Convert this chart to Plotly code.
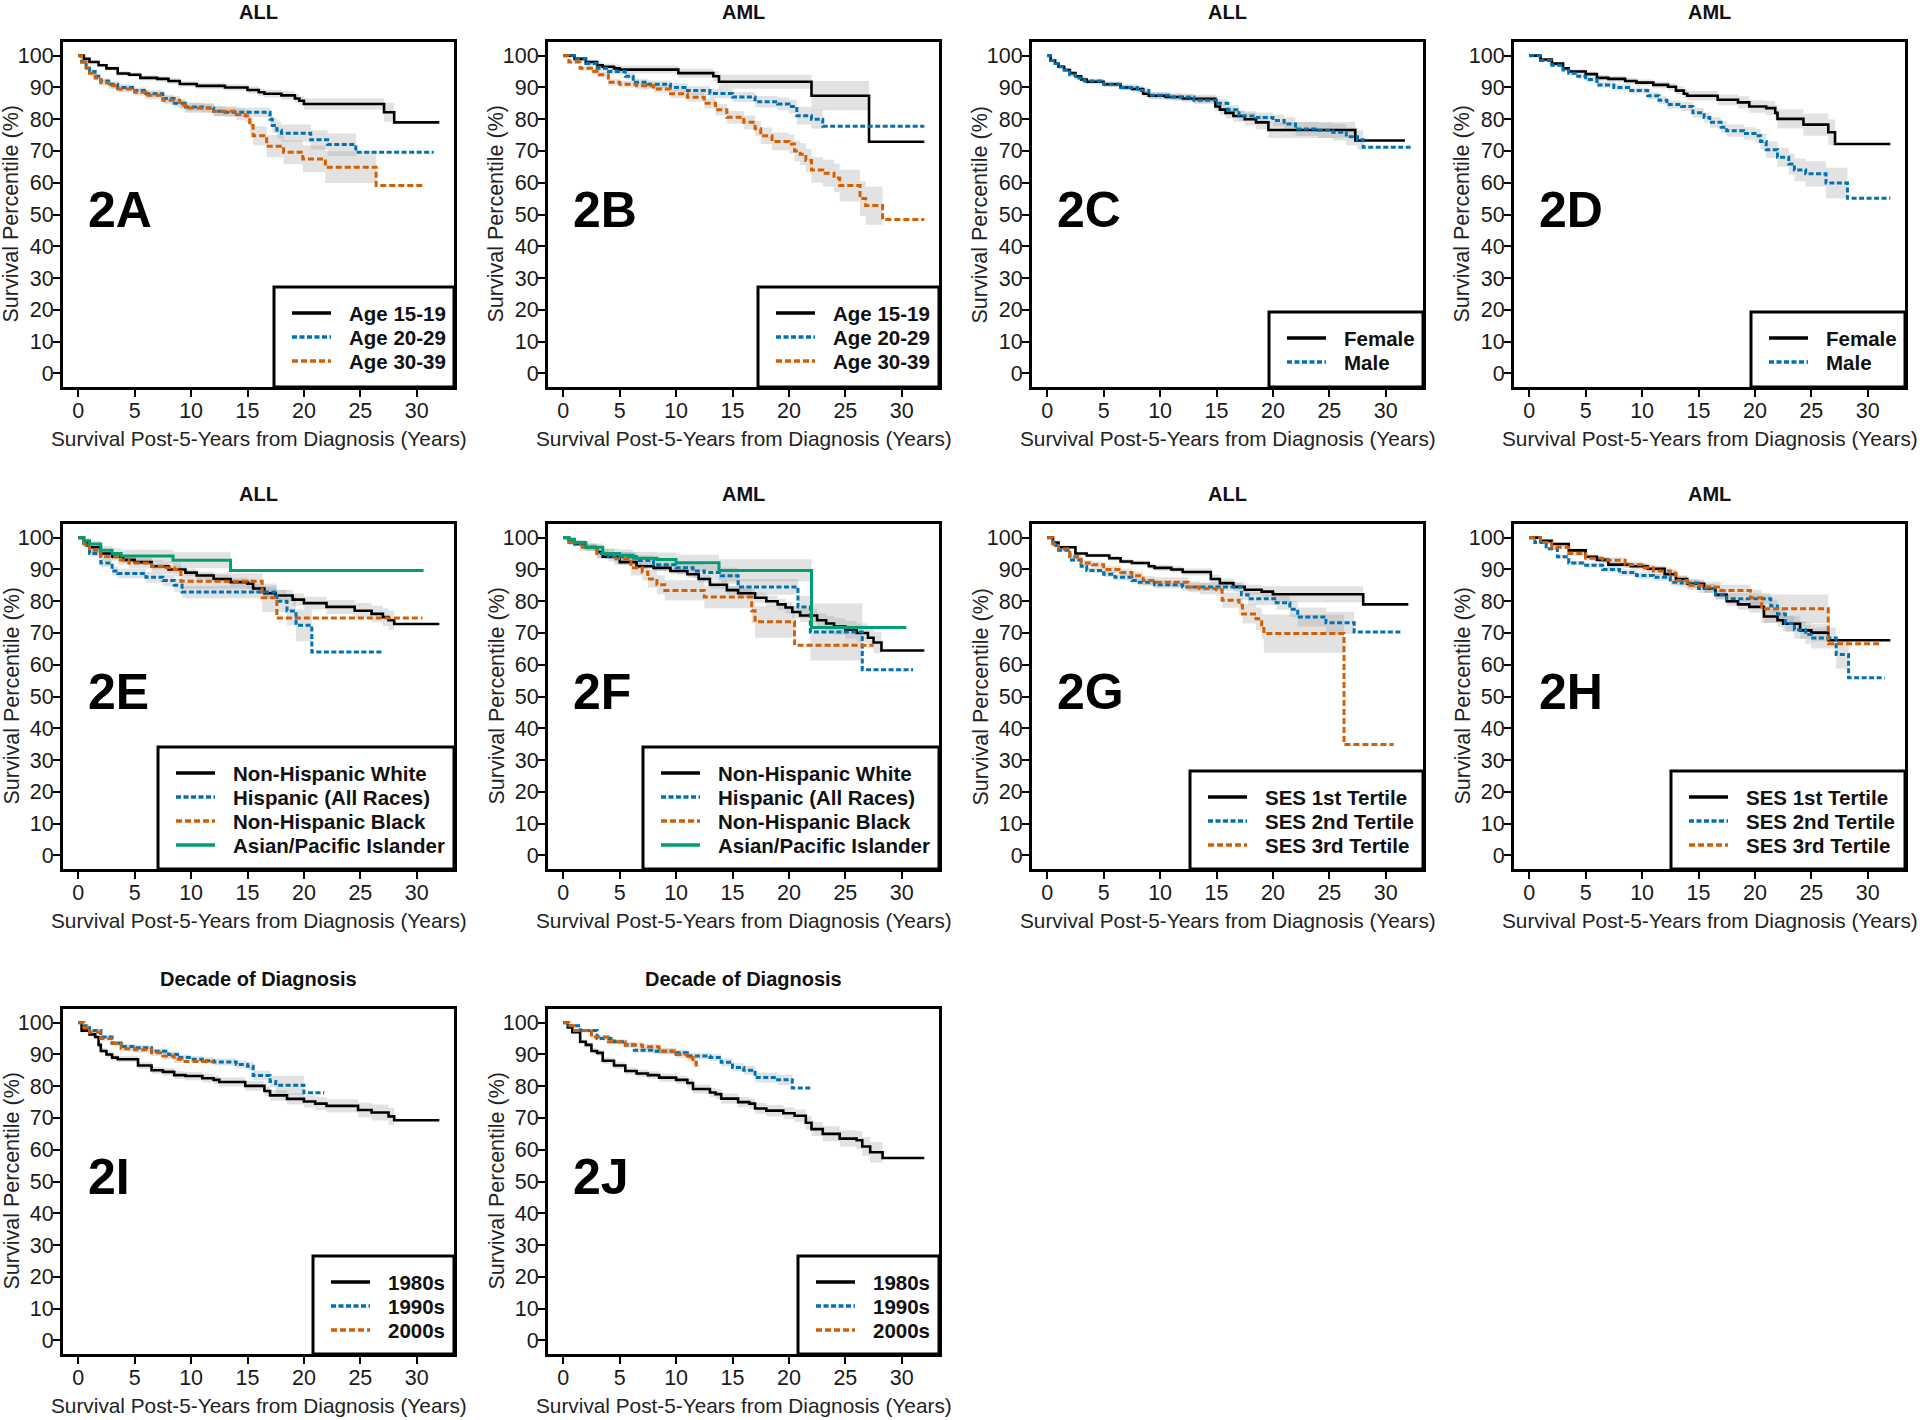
import plotly.graph_objects as go

W, H = 1920, 1420
FONT = "Liberation Sans, Arial, sans-serif"

X_TICKS = [0, 5, 10, 15, 20, 25, 30]
Y_TICKS = [0, 10, 20, 30, 40, 50, 60, 70, 80, 90, 100]
X_TITLE = "Survival Post-5-Years from Diagnosis (Years)"
Y_TITLE = "Survival Percentile (%)"

# ---- 2A: ALL by age ------------------------------------------------------
A_NAMES = ["Age 15-19", "Age 20-29", "Age 30-39"]
A1_T = [0, 0.5, 1, 1.8, 2.5, 3.5, 4.5, 5.5, 7, 8, 9, 10.5, 13, 15, 16, 16.5, 18, 19.2, 19.6, 20, 27.1, 28, 32]
A1_S = [100, 99, 98, 97, 96, 94.4, 94, 93, 92.7, 92, 91.1, 90.5, 90, 89.2, 88.5, 88, 87.5, 86.5, 85.8, 84.8, 82.2, 79, 79]
A1_CI = [0, 0.3, 0.4, 0.5, 0.6, 0.7, 0.7, 0.8, 0.8, 0.9, 0.9, 1, 1, 1.1, 1.2, 1.2, 1.3, 1.4, 1.4, 1.8, 3, 0, 0]
A2_T = [0, 0.3, 0.7, 1, 1.5, 2, 2.7, 3.5, 5, 6, 7.5, 8.5, 9.5, 11, 12, 13, 17, 17.2, 17.6, 18, 20.6, 22.1, 24.6, 31.5]
A2_S = [100, 98, 96.5, 95, 93.5, 92, 91, 90, 89, 88, 86.5, 85, 83.8, 83.5, 82.5, 82.2, 80, 78, 76.5, 75.6, 73.5, 72, 69.6, 69.6]
A2_CI = [0, 0.3, 0.5, 0.6, 0.7, 0.8, 0.9, 1, 1, 1.1, 1.2, 1.3, 1.4, 1.4, 1.5, 1.5, 2, 2.3, 2.5, 2.7, 3, 3.5, 0, 0]
A3_T = [0, 0.3, 0.7, 1, 1.5, 2, 2.7, 3.5, 5, 6, 7.5, 9, 9.5, 11, 12, 14, 14.8, 15.2, 15.5, 16.7, 18.2, 19.9, 21.9, 26.4, 30.7]
A3_S = [100, 98, 96, 94.5, 93, 91.5, 90.5, 89.5, 88.5, 87.5, 86, 84.5, 83.5, 83.5, 82.5, 81.5, 81, 78, 74.8, 71.5, 69.6, 67.5, 64.9, 59.1, 59.1]
A3_CI = [0, 0.4, 0.6, 0.7, 0.8, 0.9, 1, 1, 1.1, 1.2, 1.3, 1.4, 1.5, 1.5, 1.6, 1.8, 2, 2.5, 3, 3.5, 3.8, 4.2, 5, 0, 0]

# ---- 2B: AML by age ------------------------------------------------------
B_NAMES = ["Age 15-19", "Age 20-29", "Age 30-39"]
B1_T = [0, 1, 2, 3, 3.5, 4.5, 5, 10.2, 13.3, 13.8, 22, 27.1, 32]
B1_S = [100, 99, 98, 97, 96.5, 96, 95.6, 94.5, 93.5, 91.8, 87.4, 72.9, 72.9]
B1_CI = [0, 0.5, 0.8, 1, 1, 1.1, 1.2, 1.4, 1.6, 2.2, 4.6, 0, 0]
B2_T = [0, 1, 2, 3, 4, 5.5, 6.2, 7.5, 9.5, 11, 13, 15, 17, 19, 20, 20.7, 22, 23, 32]
B2_S = [100, 99, 97.5, 96, 95, 93.5, 91.6, 91, 90, 89, 88.1, 87, 85.5, 84.8, 84, 81.1, 80, 77.8, 77.8]
B2_CI = [0, 0.5, 0.7, 0.8, 0.9, 1, 1.1, 1.2, 1.3, 1.4, 1.5, 1.6, 1.8, 2, 2.2, 2.8, 3, 0, 0]
B3_T = [0, 0.5, 1.5, 2.5, 3, 4, 5, 6.5, 8, 9.5, 11, 12.5, 13.5, 14.5, 16, 17, 17.5, 18.5, 20, 20.5,
        21, 21.5, 22, 23, 24, 24.5, 26.3, 26.8, 28.3, 32]
B3_S = [100, 98, 96, 95, 94, 91.6, 91, 90.5, 89.5, 88, 86.9, 85, 83, 80.6, 79, 77, 74.8, 73, 72.2, 70,
        69, 67, 64, 63, 61.5, 59.1, 55, 52.8, 48.4, 48.4]
B3_CI = [0, 0.5, 0.7, 0.8, 0.9, 1, 1, 1.1, 1.2, 1.3, 1.4, 1.6, 1.8, 2, 2.2, 2.4, 2.6, 2.8, 3, 3.2,
         3.4, 3.6, 4, 4.2, 4.5, 5, 5.5, 6, 0, 0]

# ---- 2C: ALL by sex ------------------------------------------------------
C_NAMES = ["Female", "Male"]
C1_T = [0, 0.3, 0.7, 1, 1.5, 2, 2.5, 3, 3.5, 5, 6.5, 7.5, 8.5, 9, 10.5, 12, 13, 14.9, 15.3, 15.8,
        16.5, 17.5, 18.5, 19.6, 27.3, 31.7]
C1_S = [100, 98.5, 97.5, 96.5, 95.5, 94.5, 93.5, 92.5, 91.8, 91, 90, 89.5, 88, 87.4, 87, 86.5, 86.4, 84, 83, 82,
        81, 80, 79, 76.6, 73.3, 73.3]
C1_CI = [0, 0.3, 0.4, 0.5, 0.5, 0.6, 0.6, 0.7, 0.7, 0.8, 0.9, 1, 1, 1.1, 1.1, 1.2, 1.3, 1.5, 1.6, 1.7,
         1.8, 2, 2.2, 2.5, 0, 0]
C2_T = [0, 0.3, 0.7, 1, 1.5, 2, 2.5, 3.3, 5, 6.5, 8, 9, 11, 13, 15, 16, 17, 18.5, 20, 21,
        22, 24, 25.3, 26.5, 27.5, 28, 32.2]
C2_S = [100, 98.5, 97.5, 96.5, 95.5, 94, 93, 92, 91, 90, 89, 87.5, 87, 86, 85, 83, 81, 80.5, 79.6, 78.5,
        76.9, 76.5, 75.9, 74.5, 73.5, 71.2, 71.2]
C2_CI = [0, 0.3, 0.4, 0.5, 0.5, 0.6, 0.6, 0.7, 0.8, 0.9, 1, 1, 1.1, 1.2, 1.3, 1.4, 1.5, 1.6, 1.8, 2,
         2.2, 2.4, 2.6, 2.8, 3, 0, 0]

# ---- 2D: AML by sex ------------------------------------------------------
D_NAMES = ["Female", "Male"]
D1_T = [0, 1, 2, 3, 3.5, 5, 6, 7, 8.5, 9.5, 11, 12.3, 13, 13.7, 14, 16.7, 18.5, 19.5, 21, 21.8,
        22, 24.3, 26.5, 27.1, 32]
D1_S = [100, 98.8, 97.5, 96, 95, 94.2, 93, 92.7, 92, 91.5, 90.8, 90.2, 89, 88, 87.4, 86.1, 85.3, 84, 83.5, 82,
        80.1, 78.3, 75.9, 72.2, 72.2]
D1_CI = [0, 0.4, 0.5, 0.6, 0.7, 0.8, 0.9, 0.9, 1, 1, 1.1, 1.2, 1.3, 1.4, 1.5, 1.7, 1.9, 2, 2.2, 2.5,
         3, 3.5, 4, 0, 0]
D2_T = [0, 1, 2, 3, 3.5, 4.3, 5, 6, 7.5, 9, 10.5, 11.5, 12.2, 13.5, 14.5, 15.5, 16, 17, 17.5, 19,
        20, 20.5, 21, 22, 23, 23.5, 24.5, 26.3, 28.2, 32]
D2_S = [100, 98.5, 97, 95.5, 94.5, 93.5, 92.5, 90.8, 90, 89, 87.4, 86, 84.6, 84, 82, 80.5, 79, 77.5, 76.4, 75.5,
        74.8, 73, 70.4, 68, 65.9, 64, 62.8, 59.9, 55.1, 55.1]
D2_CI = [0, 0.4, 0.5, 0.6, 0.7, 0.7, 0.8, 0.9, 1, 1, 1.1, 1.2, 1.3, 1.4, 1.5, 1.6, 1.7, 1.8, 1.9, 2,
         2.2, 2.4, 2.6, 3, 3.3, 3.6, 4, 4.8, 0, 0]

# ---- 2E: ALL by race/ethnicity -------------------------------------------
E_NAMES = ["Non-Hispanic White", "Hispanic (All Races)", "Non-Hispanic Black", "Asian/Pacific Islander"]
E1_T = [0, 0.5, 1, 2, 3, 4, 5, 6.5, 8, 9.5, 10.5, 12, 13.5, 15, 15.5, 16.5, 17.5, 19, 20, 22,
        24.5, 26, 27, 27.5, 28, 32]
E1_S = [100, 98.5, 97, 95, 94, 93, 92.3, 91, 90, 89, 88.1, 87, 86, 85.5, 84, 82.5, 81.8, 80.5, 79.4, 78.2,
        77, 76, 75, 74, 72.8, 72.8]
E1_CI = [0, 0.4, 0.5, 0.6, 0.7, 0.8, 0.9, 1, 1, 1.1, 1.2, 1.3, 1.4, 1.5, 1.6, 1.7, 1.8, 1.9, 2, 2.2,
         2.4, 2.6, 2.8, 3, 0, 0]
E2_T = [0, 0.5, 1, 2, 3, 3.5, 6, 7.5, 8.5, 9.2, 17.6, 18.5, 19.3, 20.7, 27]
E2_S = [100, 97.5, 95, 92, 89.5, 88.7, 87.5, 86.5, 85, 82.9, 80, 76.9, 72.4, 64, 64]
E2_CI = [0, 0.6, 0.9, 1.2, 1.4, 1.5, 1.7, 1.8, 2, 2, 3.5, 4.5, 5, 0, 0]
E3_T = [0, 0.5, 1, 2, 3.5, 4.5, 6.5, 7.5, 8.5, 9.1, 16.3, 17.6, 30.5]
E3_S = [100, 98, 96, 94, 93, 92, 91, 90.5, 90, 86.3, 81.1, 74.7, 74.7]
E3_CI = [0, 0.8, 1, 1.3, 1.5, 1.7, 1.9, 2, 2.2, 2.5, 4.5, 0, 0]
E4_T = [0, 0.5, 1, 2, 3, 3.8, 8.4, 13.5, 30.6]
E4_S = [100, 99, 98, 96, 95, 94.2, 92.9, 89.7, 89.7]
E4_CI = [0, 0.8, 1, 1.4, 1.7, 2, 2.5, 0, 0]

# ---- 2F: AML by race/ethnicity -------------------------------------------
F_NAMES = ["Non-Hispanic White", "Hispanic (All Races)", "Non-Hispanic Black", "Asian/Pacific Islander"]
F1_T = [0, 0.5, 1, 2, 3, 3.5, 5, 6.5, 8, 9.5, 11, 12, 13, 14.5, 15.5, 17, 18, 19, 19.7, 20.3,
        21, 22.5, 23.3, 24, 25, 26, 27, 27.5, 28.2, 32]
F1_S = [100, 99, 98, 97, 95.5, 94, 92.3, 91, 90.5, 89.5, 88.5, 87, 85.2, 83.5, 82.5, 81.1, 80, 79, 78, 76.6,
        75.5, 74, 73, 72, 71, 70, 68.5, 67, 64.5, 64.5]
F1_CI = [0, 0.3, 0.4, 0.5, 0.6, 0.7, 0.8, 0.9, 1, 1, 1.1, 1.2, 1.3, 1.4, 1.5, 1.6, 1.7, 1.8, 1.9, 2,
         2.1, 2.2, 2.4, 2.6, 2.8, 3, 3.2, 3.4, 0, 0]
F2_T = [0, 0.5, 1, 2, 3, 4, 6.5, 8, 10, 11.5, 12.5, 14, 15.5, 20.8, 21.9, 26.5, 31]
F2_S = [100, 99, 98, 97, 95, 94, 92.8, 91.5, 90.5, 89.5, 89, 88, 84.5, 78.2, 70.3, 58.4, 58.4]
F2_CI = [0, 0.6, 0.9, 1.1, 1.3, 1.5, 1.7, 1.9, 2, 2.2, 2.3, 2.5, 2.5, 3.5, 9, 0, 0]
F3_T = [0, 0.5, 1.5, 3, 4.5, 6, 7, 7.5, 8.3, 9, 12.5, 16.7, 17, 20.5, 27.5]
F3_S = [100, 98.5, 97, 95, 93.4, 90.5, 89.2, 87, 85.2, 83.4, 81.3, 77, 73.5, 66.1, 66.1]
F3_CI = [0, 0.8, 1.2, 1.6, 2, 2.4, 2.6, 2.8, 3, 3.2, 3.5, 4, 5, 0, 0]
F4_T = [0, 0.5, 1, 2, 3.5, 5, 6.2, 8.3, 10, 13.8, 22, 30.4]
F4_S = [100, 99.5, 98.5, 97, 95, 94.5, 93.5, 93.1, 92.1, 89.7, 71.7, 71.7]
F4_CI = [0, 0.5, 0.8, 1.2, 1.5, 1.8, 2, 2.2, 2.5, 3.5, 0, 0]

# ---- 2G: ALL by SES tertile ----------------------------------------------
G_NAMES = ["SES 1st Tertile", "SES 2nd Tertile", "SES 3rd Tertile"]
G1_T = [0, 0.5, 1, 2.5, 3.5, 5.5, 6.5, 7.5, 9, 9.5, 11, 12, 14.5, 15.3, 16.5, 17.5, 19, 20, 28, 32]
G1_S = [100, 98.5, 97, 95, 94.4, 93.5, 92.5, 92, 91, 90.5, 90, 89.2, 87, 85.7, 84.5, 83.6, 83, 82.2, 79, 79]
G1_CI = [0, 0.3, 0.4, 0.5, 0.6, 0.7, 0.8, 0.8, 0.9, 1, 1, 1.1, 1.3, 1.4, 1.5, 1.6, 1.7, 2.5, 0, 0]
G2_T = [0, 0.5, 1, 2, 3, 3.5, 5, 6, 7.5, 8, 9.5, 12, 17.2, 17.8, 20.3, 21.5, 22.2, 24.7, 27.2, 31.3]
G2_S = [100, 97.5, 96, 93, 91, 89.7, 88.5, 87.5, 86.5, 86, 85.2, 84.5, 82, 80.8, 79.5, 77.5, 75, 73.2, 70.3, 70.3]
G2_CI = [0, 0.4, 0.5, 0.6, 0.7, 0.8, 0.9, 1, 1, 1.1, 1.2, 1.3, 1.7, 2, 2.2, 2.5, 3, 3.5, 0, 0]
G3_T = [0, 0.5, 1, 2, 3, 4, 5, 6.5, 7.5, 8.5, 9.5, 12.5, 13.5, 15, 15.5, 17, 17.3, 18.5, 19, 19.2, 26.3, 30.7]
G3_S = [100, 98, 96.5, 94, 92, 91.5, 90, 89, 88, 86.5, 86, 84.5, 84, 83.6, 80.3, 78.7, 76, 74.5, 72, 69.8, 34.9, 34.9]
G3_CI = [0, 0.5, 0.6, 0.8, 0.9, 1, 1.1, 1.2, 1.3, 1.4, 1.5, 1.7, 1.8, 2, 2.4, 2.8, 3, 3.5, 4, 6, 0, 0]

# ---- 2H: AML by SES tertile ----------------------------------------------
H_NAMES = ["SES 1st Tertile", "SES 2nd Tertile", "SES 3rd Tertile"]
H1_T = [0, 1, 2, 3.5, 5, 6, 7, 9, 10.5, 12, 13, 14, 15.5, 16.5, 17.5, 18.5, 19.5, 20.8, 22, 22.5,
        24, 25, 26.5, 32]
H1_S = [100, 99, 98, 96, 94, 93, 91.5, 91, 90.2, 88.5, 87, 85.5, 84, 82, 80, 79, 78.2, 75.2, 74, 72.9,
        70.8, 70.1, 67.7, 67.7]
H1_CI = [0, 0.4, 0.5, 0.6, 0.7, 0.8, 0.9, 1, 1, 1.1, 1.2, 1.3, 1.4, 1.5, 1.6, 1.7, 1.8, 2, 2.2, 2.4,
         2.6, 2.8, 0, 0]
H2_T = [0, 0.5, 1.5, 2.5, 3.5, 5, 6.5, 8, 9.5, 11, 12.5, 13.5, 15, 16.5, 17.5, 21.4, 22, 22.7, 23.5, 24.5,
        25, 27.2, 28.3, 31.5]
H2_S = [100, 98.5, 96.5, 94, 92, 91.3, 90, 89, 88.1, 87.5, 86, 85.7, 84, 82, 80.8, 78.5, 76, 73, 71, 69.5,
        68.4, 63.2, 55.9, 55.9]
H2_CI = [0, 0.4, 0.5, 0.6, 0.7, 0.8, 0.9, 1, 1, 1.1, 1.2, 1.3, 1.4, 1.5, 1.7, 2, 2.2, 2.5, 2.8, 3,
         3.3, 4.5, 0, 0]
H3_T = [0, 1, 2, 3.5, 5, 6.5, 8.5, 10, 11, 12.5, 13, 14, 15.5, 17, 19.6, 20.6, 26.5, 31]
H3_S = [100, 98.5, 97, 95, 93.5, 92.9, 91.5, 90.5, 89.5, 88.9, 86.5, 85, 84.5, 83.4, 81.1, 77.6, 66.6, 66.6]
H3_CI = [0, 0.5, 0.6, 0.7, 0.8, 0.9, 1, 1.1, 1.2, 1.3, 1.4, 1.5, 1.6, 1.8, 2.5, 4.5, 0, 0]

# ---- 2I: ALL by decade ---------------------------------------------------
I_NAMES = ["1980s", "1990s", "2000s"]
I1_T = [0, 0.3, 1, 1.5, 1.8, 2, 2.5, 3, 3.5, 5.3, 6.5, 7.5, 8.5, 9.5, 11, 12, 12.5, 14.8, 16.5, 17,
        18.5, 20, 21, 22, 24.8, 26, 27.5, 28, 32]
I1_S = [100, 97.5, 96.3, 95.5, 93, 91.1, 90, 89, 88.5, 86.5, 85, 84.5, 83.5, 83.2, 82.5, 82, 81.3, 80.1, 78.5, 77.1,
        76, 75.2, 74.5, 73.8, 72.5, 71.7, 70.5, 69.3, 69.3]
I1_CI = [0, 0.5, 0.6, 0.7, 0.8, 0.9, 1, 1, 1, 1.1, 1.1, 1.2, 1.2, 1.3, 1.3, 1.4, 1.4, 1.5, 1.6, 1.7,
         1.8, 1.9, 2, 2.1, 2.3, 2.5, 2.7, 0, 0]
I2_T = [0, 0.5, 1, 2, 3, 4, 5, 6.5, 8, 9, 10, 11, 12, 14, 15, 15.5, 17, 17.5, 20, 21.8]
I2_S = [100, 99, 97.5, 95.5, 93.5, 92.5, 92.1, 91, 90, 89, 88.5, 88, 87.6, 86.8, 86.3, 83.4, 81.5, 80.3, 77.9, 77.9]
I2_CI = [0, 0.4, 0.5, 0.6, 0.7, 0.8, 0.8, 0.9, 0.9, 1, 1, 1.1, 1.1, 1.2, 1.3, 1.5, 1.8, 3, 0, 0]
I3_T = [0, 0.5, 1, 2, 3, 3.8, 5, 6.5, 7.5, 8.5, 9.2, 12]
I3_S = [100, 98.5, 97, 95, 93.5, 91.8, 91.5, 90.5, 89.5, 88.5, 87.8, 87.8]
I3_CI = [0, 0.5, 0.6, 0.7, 0.8, 0.9, 1, 1, 1.1, 1.2, 0, 0]

# ---- 2J: AML by decade ---------------------------------------------------
J_NAMES = ["1980s", "1990s", "2000s"]
J1_T = [0, 0.4, 0.8, 1.5, 2, 2.5, 3, 3.5, 4.5, 5.5, 6.5, 7.5, 8.5, 10, 11, 11.5, 13, 13.5, 14, 15.5,
        16.5, 17, 18, 19.5, 20.5, 21.5, 22, 23, 24.5, 26, 26.5, 27.2, 28.3, 32]
J1_S = [100, 98.5, 97, 94, 93, 91.1, 90.5, 88, 86.5, 84.8, 84, 83.5, 82.7, 82, 81, 79.1, 78, 77.5, 76.1, 75,
        74.5, 73, 72.3, 71.5, 70.7, 68.5, 66.5, 65, 63.5, 63, 61, 59.2, 57.4, 57.4]
J1_CI = [0, 0.5, 0.6, 0.7, 0.8, 0.9, 1, 1, 1.1, 1.1, 1.2, 1.2, 1.3, 1.3, 1.4, 1.4, 1.5, 1.5, 1.6, 1.6,
         1.7, 1.7, 1.8, 1.9, 2, 2.1, 2.2, 2.4, 2.6, 2.8, 3, 3.2, 0, 0]
J2_T = [0, 0.5, 1.5, 3, 4.5, 5.5, 6.3, 8, 10, 11, 13, 14, 15, 16, 17, 19, 20.3, 22]
J2_S = [100, 99, 97.5, 95, 94, 93, 91.3, 91, 90.5, 89.5, 89, 87.5, 85.9, 85, 82.7, 82, 79.4, 79.4]
J2_CI = [0, 0.4, 0.5, 0.6, 0.7, 0.8, 0.8, 0.9, 1, 1, 1.1, 1.2, 1.3, 1.4, 1.5, 1.7, 0, 0]
J3_T = [0, 0.5, 1, 2.5, 4, 5.5, 7, 8.5, 10, 11, 11.5, 11.8, 12]
J3_S = [100, 99, 97.5, 95.5, 94, 93, 92.4, 91, 90, 89, 87.5, 85.9, 85.9]
J3_CI = [0, 0.4, 0.5, 0.6, 0.7, 0.8, 0.9, 1, 1.1, 1.2, 1.4, 0, 0]

# colour, dash, width for the 1st..4th group of every panel
STYLES = [
    ("#000000", "solid", 2.6),
    ("#0072B2", "5px,2.5px", 3),
    ("#D55E00", "6px,3px", 3),
    ("#009E73", "solid", 3),
]
BAND = "rgba(150,150,150,0.28)"

PANELS = [
    dict(tag="2A", title="ALL", row=0, col=0, names=A_NAMES, leg=(180, 100),
         series=[(A1_T, A1_S, A1_CI), (A2_T, A2_S, A2_CI), (A3_T, A3_S, A3_CI)]),
    dict(tag="2B", title="AML", row=0, col=1, names=B_NAMES, leg=(181, 100),
         series=[(B1_T, B1_S, B1_CI), (B2_T, B2_S, B2_CI), (B3_T, B3_S, B3_CI)]),
    dict(tag="2C", title="ALL", row=0, col=2, names=C_NAMES, leg=(154, 75),
         series=[(C1_T, C1_S, C1_CI), (C2_T, C2_S, C2_CI)]),
    dict(tag="2D", title="AML", row=0, col=3, names=D_NAMES, leg=(154, 75),
         series=[(D1_T, D1_S, D1_CI), (D2_T, D2_S, D2_CI)]),
    dict(tag="2E", title="ALL", row=1, col=0, names=E_NAMES, leg=(296, 122),
         series=[(E1_T, E1_S, E1_CI), (E2_T, E2_S, E2_CI), (E3_T, E3_S, E3_CI), (E4_T, E4_S, E4_CI)]),
    dict(tag="2F", title="AML", row=1, col=1, names=F_NAMES, leg=(296, 122),
         series=[(F1_T, F1_S, F1_CI), (F2_T, F2_S, F2_CI), (F3_T, F3_S, F3_CI), (F4_T, F4_S, F4_CI)]),
    dict(tag="2G", title="ALL", row=1, col=2, names=G_NAMES, leg=(233, 98),
         series=[(G1_T, G1_S, G1_CI), (G2_T, G2_S, G2_CI), (G3_T, G3_S, G3_CI)]),
    dict(tag="2H", title="AML", row=1, col=3, names=H_NAMES, leg=(234, 98),
         series=[(H1_T, H1_S, H1_CI), (H2_T, H2_S, H2_CI), (H3_T, H3_S, H3_CI)]),
    dict(tag="2I", title="Decade of Diagnosis", row=2, col=0, names=I_NAMES, leg=(141, 98),
         series=[(I1_T, I1_S, I1_CI), (I2_T, I2_S, I2_CI), (I3_T, I3_S, I3_CI)]),
    dict(tag="2J", title="Decade of Diagnosis", row=2, col=1, names=J_NAMES, leg=(141, 98),
         series=[(J1_T, J1_S, J1_CI), (J2_T, J2_S, J2_CI), (J3_T, J3_S, J3_CI)]),
]

# plot-box geometry in page pixels
COL_LEFT = [63, 548, 1032, 1514]
ROW_TOP = [42, 524, 1009]
BOX_W, BOX_H = 391, 345
X_RANGE = [-1.35, 33.3]
Y_RANGE = [-4.3, 104.3]


def fx(px):
    return px / W


def fy(px):
    return 1 - px / H


fig = go.Figure()
annotations = []
shapes = []
axis_style = dict(
    showline=True, linecolor="black", linewidth=3, mirror=True,
    ticks="outside", ticklen=7, tickwidth=2, tickcolor="black",
    showgrid=False, zeroline=False, fixedrange=True, ticklabelstandoff=-5,
    tickfont=dict(family=FONT, size=21.5, color="#1a1a1a"),
)

for k, p in enumerate(PANELS):
    n = "" if k == 0 else str(k + 1)
    xa, ya = "x" + n, "y" + n
    left, top = COL_LEFT[p["col"]], ROW_TOP[p["row"]]
    right, bottom = left + BOX_W, top + BOX_H

    fig.update_layout(**{
        "xaxis" + n: dict(axis_style, domain=[fx(left), fx(right)], anchor=ya,
                          range=X_RANGE, tickvals=X_TICKS),
        "yaxis" + n: dict(axis_style, domain=[fy(bottom), fy(top)], anchor=xa,
                          range=Y_RANGE, tickvals=Y_TICKS),
    })

    # confidence bands first
    for t, s, ci in p["series"]:
        lo = [v - c for v, c in zip(s, ci)]
        hi = [min(100, v + c) for v, c in zip(s, ci)]
        fig.add_trace(go.Scatter(x=t, y=lo, xaxis=xa, yaxis=ya, mode="lines",
                                 line=dict(width=0, shape="hv"), hoverinfo="skip", showlegend=False))
        fig.add_trace(go.Scatter(x=t, y=hi, xaxis=xa, yaxis=ya, mode="lines",
                                 line=dict(width=0, shape="hv"), fill="tonexty", fillcolor=BAND,
                                 hoverinfo="skip", showlegend=False))

    # survival curves
    for (t, s, ci), name, (color, dash, width) in zip(p["series"], p["names"], STYLES):
        fig.add_trace(go.Scatter(x=t, y=s, xaxis=xa, yaxis=ya, mode="lines", name=name,
                                 line=dict(color=color, dash=dash, width=width, shape="hv"),
                                 showlegend=False))

    cx, cy = (left + right) / 2, (top + bottom) / 2
    annotations += [
        dict(text="<b>%s</b>" % p["title"], x=fx(cx), y=fy(top - 30), xref="paper", yref="paper",
             showarrow=False, xanchor="center", yanchor="middle",
             font=dict(family=FONT, size=20, color="#111")),
        dict(text=X_TITLE, x=fx(cx), y=fy(bottom + 51.5), xref="paper", yref="paper",
             showarrow=False, xanchor="center", yanchor="middle",
             font=dict(family=FONT, size=20.8, color="#222")),
        dict(text=Y_TITLE, x=fx(left - 52), y=fy(cy), xref="paper", yref="paper", textangle=-90,
             showarrow=False, xanchor="center", yanchor="middle",
             font=dict(family=FONT, size=21.5, color="#222")),
        dict(text="<b>%s</b>" % p["tag"], x=fx(left + 23), y=fy(top + 168), xref="paper", yref="paper",
             showarrow=False, xanchor="left", yanchor="middle",
             font=dict(family=FONT, size=50, color="black")),
    ]

    # legend box drawn in the lower-right corner of the plot box
    lw, lh = p["leg"]
    lx, ly = right - lw, bottom - lh
    shapes.append(dict(type="rect", xref="paper", yref="paper", x0=fx(lx), x1=fx(right),
                       y0=fy(bottom), y1=fy(ly), line=dict(color="black", width=3),
                       fillcolor="white", layer="above"))
    for i, (name, (color, dash, width)) in enumerate(zip(p["names"], STYLES)):
        rowy = ly + 26 + 24 * i
        shapes.append(dict(type="line", xref="paper", yref="paper", x0=fx(lx + 18), x1=fx(lx + 57),
                           y0=fy(rowy), y1=fy(rowy), layer="above",
                           line=dict(color=color, dash=dash, width=3.4)))
        annotations.append(dict(text="<b>%s</b>" % name, x=fx(lx + 73), y=fy(rowy), xref="paper",
                                yref="paper", showarrow=False, xanchor="left", yanchor="middle",
                                font=dict(family=FONT, size=20.5, color="#111")))

fig.update_layout(
    width=W, height=H,
    margin=dict(l=0, r=0, t=0, b=0),
    paper_bgcolor="white", plot_bgcolor="white",
    showlegend=False,
    annotations=annotations,
    shapes=shapes,
)

# drop the browser's default body margin so the figure fills the window exactly
fig.write_html("out.html", config={"displayModeBar": False},
               post_script="document.body.style.margin = '0px';")
